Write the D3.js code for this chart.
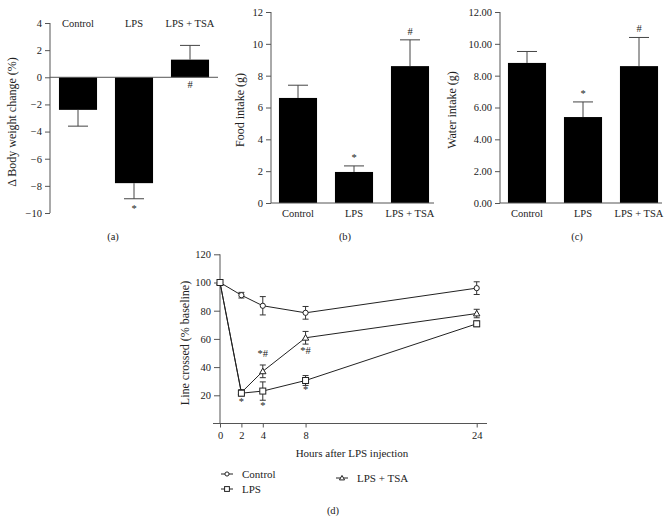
<!DOCTYPE html>
<html><head><meta charset="utf-8">
<script src="https://cdn.jsdelivr.net/npm/d3@7"></script>
<style>
body{margin:0;background:#fff;}
svg text{font-family:"Liberation Serif","DejaVu Serif",serif;fill:#222;}
</style></head>
<body><svg id="c" width="670" height="522"></svg>
<script>
// ---- data ----
const groups = ["Control", "LPS", "LPS + TSA"];
const weightMean = [-2.4, -7.8, 1.3];
const weightErr = [1.2, 1.15, 1.05];
const weightMarks = ["", "*", "#"];
const foodMean = [6.6, 1.95, 8.6];
const foodErr = [0.8, 0.38, 1.65];
const foodMarks = ["", "*", "#"];
const waterMean = [8.8, 5.4, 8.6];
const waterErr = [0.72, 0.95, 1.8];
const waterMarks = ["", "*", "#"];
const weightTicks = [4, 2, 0, -2, -4, -6, -8, -10];
const foodTicks = [0, 2, 4, 6, 8, 10, 12];
const waterTicks = [0, 2, 4, 6, 8, 10, 12];

const hours = [0, 2, 4, 8, 24];
const ctrlLine = [100, 91, 83.5, 78.5, 96];
const ctrlErr = [1, 2, 6.5, 4.5, 4.5];
const lpsLine = [100, 21.5, 23, 30.5, 70.7];
const lpsErr = [1, 2, 6.5, 3.5, 2];
const tsaLine = [100, 22, 37, 60.8, 78];
const tsaErr = [1, 2, 4.5, 4.5, 3];
const lineTicks = [20, 40, 60, 80, 100, 120];
const lineAnnot = [
  {h: 2, v: 13, t: "*"}, {h: 4, v: 47, t: "*#"}, {h: 4, v: 10.5, t: "*"},
  {h: 8, v: 49.5, t: "*#"}, {h: 8, v: 21.5, t: "*"}
];

const svg = d3.select("#c");
const FS = 10.5;
const LFS = 12;
const axisCol = "#555";
const txtCol = "#222";

function barPanel(o) {
  const g = svg.append("g");
  const y = d3.scaleLinear().domain(o.domain).range([o.yBottom, o.yTop]);
  const x = d3.scaleBand().domain(groups).range(o.xRange).paddingInner(0.32).paddingOuter(0.16);
  const ya = d3.axisLeft(y).tickValues(o.ticks).tickSize(5).tickPadding(3).tickFormat(o.fmt);
  const ag = g.append("g").attr("transform", `translate(${o.axisX},0)`).call(ya);
  ag.attr("font-family", null);
  ag.select(".domain").attr("stroke", axisCol).attr("d", `M0,${y(o.domain[0])}V${y(o.domain[1])}`);
  ag.selectAll(".tick line").attr("stroke", axisCol);
  ag.selectAll("text").style("font-size", FS + "px").attr("fill", txtCol);
  const base = y(0);
  g.selectAll("rect.bar").data(o.mean).join("rect")
    .attr("x", (d, i) => x(groups[i]))
    .attr("width", x.bandwidth())
    .attr("y", d => Math.min(y(d), base))
    .attr("height", d => Math.abs(y(d) - base))
    .attr("fill", "#000");
  o.mean.forEach((m, i) => {
    const cx = x(groups[i]) + x.bandwidth() / 2;
    const e = m >= 0 ? m + o.err[i] : m - o.err[i];
    g.append("line").attr("x1", cx).attr("x2", cx).attr("y1", y(m)).attr("y2", y(e))
      .attr("stroke", "#444").attr("stroke-width", 1);
    g.append("line").attr("x1", cx - 10).attr("x2", cx + 10).attr("y1", y(e)).attr("y2", y(e))
      .attr("stroke", "#444").attr("stroke-width", 1);
    if (o.marks[i]) {
      let ty;
      if (o.markPos && o.markPos[i] === "belowZero") ty = base + 11;
      else if (m >= 0) ty = y(e) - 5;
      else ty = y(e) + 13;
      g.append("text").attr("x", cx).attr("y", ty).attr("text-anchor", "middle").attr("fill", txtCol)
        .style("font-size", FS + "px").text(o.marks[i]);
    }
    g.append("text").attr("x", cx).attr("y", o.catY).attr("text-anchor", "middle").attr("fill", txtCol)
      .style("font-size", FS + "px").text(groups[i]);
  });
  g.append("line").attr("x1", o.axisX).attr("x2", o.lineEnd).attr("y1", base).attr("y2", base)
    .attr("stroke", axisCol);
  g.append("text").attr("transform", `translate(${o.labelX},${o.labelY}) rotate(-90)`).attr("fill", txtCol)
    .attr("text-anchor", "middle").style("font-size", LFS + "px").text(o.label);
  g.append("text").attr("x", o.panelX).attr("y", 240).attr("text-anchor", "middle").attr("fill", txtCol)
    .style("font-size", FS + "px").text(o.panel);
}

barPanel({domain: [-10, 4], yBottom: 213, yTop: 23, xRange: [50, 218], axisX: 50, lineEnd: 218,
  ticks: weightTicks, fmt: d => d < 0 ? "\u2212" + Math.abs(d) : d, mean: weightMean, err: weightErr,
  marks: weightMarks, markPos: ["", "", "belowZero"], catY: 27, label: "\u0394 Body weight change (%)",
  labelX: 16, labelY: 122, panel: "(a)", panelX: 113});
barPanel({domain: [0, 12], yBottom: 203, yTop: 12, xRange: [270, 438], axisX: 271, lineEnd: 434,
  ticks: foodTicks, fmt: d3.format("d"), mean: foodMean, err: foodErr, marks: foodMarks,
  catY: 217, label: "Food intake (g)", labelX: 244, labelY: 110, panel: "(b)", panelX: 345});
barPanel({domain: [0, 12], yBottom: 203, yTop: 12, xRange: [499, 667], axisX: 500, lineEnd: 662,
  ticks: waterTicks, fmt: d3.format(".2f"), mean: waterMean, err: waterErr, marks: waterMarks,
  catY: 217, label: "Water intake (g)", labelX: 456, labelY: 110, panel: "(c)", panelX: 577});

// ---- panel d ----
const gd = svg.append("g");
const xd = d3.scaleLinear().domain([0, 24]).range([220, 476.7]);
const yd = d3.scaleLinear().domain([0, 120]).range([423.5, 254.3]);
const xa = d3.axisBottom(xd).tickValues(hours).tickSize(4).tickPadding(4);
const xag = gd.append("g").attr("transform", `translate(0,${yd(0)})`).call(xa);
xag.attr("font-family", null);
xag.select(".domain").attr("stroke", axisCol).attr("d", `M213,0H487`);
xag.selectAll(".tick line").attr("stroke", axisCol);
xag.selectAll("text").style("font-size", FS + "px").attr("fill", txtCol);
const yag = gd.append("g").attr("transform", `translate(${xd(0)},0)`)
  .call(d3.axisLeft(yd).tickValues(lineTicks).tickSize(6).tickPadding(3));
yag.attr("font-family", null);
yag.select(".domain").attr("stroke", axisCol).attr("d", `M0,${yd(0)}V${yd(120)}`);
yag.selectAll(".tick line").attr("stroke", axisCol);
yag.selectAll("text").style("font-size", FS + "px").attr("fill", txtCol);

const series = [
  {vals: ctrlLine, err: ctrlErr, shape: "circle"},
  {vals: tsaLine, err: tsaErr, shape: "triangle"},
  {vals: lpsLine, err: lpsErr, shape: "square"}
];
const line = d3.line().x((d, i) => xd(hours[i])).y(d => yd(d));
function marker(g, shape, cx, cy, k) {
  k = k || 1;
  if (shape === "circle") g.append("circle").attr("cx", cx).attr("cy", cy).attr("r", 2.6 * k)
    .attr("fill", "#fff").attr("stroke", "#222");
  else if (shape === "square") g.append("rect").attr("x", cx - 3 * k).attr("y", cy - 3 * k)
    .attr("width", 6 * k).attr("height", 6 * k).attr("fill", "#fff").attr("stroke", "#222");
  else g.append("path").attr("d", `M${cx},${cy - 3.2 * k}L${cx + 3.2 * k},${cy + 2.4 * k}L${cx - 3.2 * k},${cy + 2.4 * k}Z`)
    .attr("fill", "#fff").attr("stroke", "#222");
}
series.forEach(s => {
  gd.append("path").datum(s.vals).attr("d", line).attr("fill", "none").attr("stroke", "#222").attr("stroke-width", 1);
});
series.forEach(s => {
  s.vals.forEach((v, i) => {
    const cx = xd(hours[i]);
    if (i > 0) {
      const t = yd(v + s.err[i]), b = yd(v - s.err[i]);
      gd.append("line").attr("x1", cx).attr("x2", cx).attr("y1", t).attr("y2", b).attr("stroke", "#333");
      [t, b].forEach(yy => gd.append("line").attr("x1", cx - 3).attr("x2", cx + 3).attr("y1", yy).attr("y2", yy).attr("stroke", "#333"));
    }
    marker(gd, s.shape, cx, yd(v));
  });
});
lineAnnot.forEach(a => {
  gd.append("text").attr("x", xd(a.h)).attr("y", yd(a.v)).attr("text-anchor", "middle").attr("fill", txtCol)
    .style("font-size", FS + "px").text(a.t);
});
gd.append("text").attr("x", 352).attr("y", 457).attr("text-anchor", "middle").attr("fill", txtCol)
  .style("font-size", "11px").text("Hours after LPS injection");
gd.append("text").attr("transform", `translate(189,343) rotate(-90)`).attr("text-anchor", "middle")
  .attr("fill", txtCol).style("font-size", LFS + "px").text("Line crossed (% baseline)");

// legend
const legend = [
  {name: "Control", shape: "circle", x: 221, y: 474},
  {name: "LPS", shape: "square", x: 221, y: 489},
  {name: "LPS + TSA", shape: "triangle", x: 336, y: 478}
];
legend.forEach(l => {
  gd.append("line").attr("x1", l.x).attr("x2", l.x + 12).attr("y1", l.y).attr("y2", l.y).attr("stroke", "#222");
  marker(gd, l.shape, l.x + 6, l.y, 0.8);
  gd.append("text").attr("x", l.x + 21).attr("y", l.y + 3.5).attr("fill", txtCol)
    .style("font-size", "11px").text(l.name);
});
gd.append("text").attr("x", 333).attr("y", 514).attr("text-anchor", "middle").attr("fill", txtCol)
  .style("font-size", FS + "px").text("(d)");
</script></body></html>
